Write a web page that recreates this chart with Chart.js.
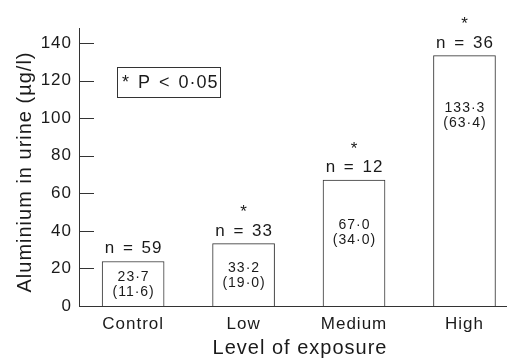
<!DOCTYPE html>
<html>
<head>
<meta charset="utf-8">
<script src="https://cdn.jsdelivr.net/npm/chart.js@4.4.0/dist/chart.umd.min.js"></script>
<style>
  html, body { margin: 0; padding: 0; background: #fff; }
  #wrap { width: 507px; height: 358px; position: relative; }
</style>
</head>
<body>
<div id="wrap"><canvas id="c" width="507" height="358"></canvas></div>
<script>
const categories = ['Control', 'Low', 'Medium', 'High'];
const means = [23.7, 33.2, 67.0, 133.3];
const sds = [11.6, 19.0, 34.0, 63.4];
const nValues = [59, 33, 12, 36];
const significant = [false, true, true, true];
const yTicks = [0, 20, 40, 60, 80, 100, 120, 140];
const xTitle = 'Level of exposure';
const yTitle = 'Aluminium in urine (\u00B5g/l)';
const legendText = '* P < 0\u00B705';

const FONT = '"Liberation Sans", Arial, Helvetica, sans-serif';
const INK = '#1a1a1a';
const fmt = v => v.toFixed(1).replace('.', '\u00B7');

const spacing = {
  id: 'spacing',
  beforeLayout(chart) { chart.ctx.letterSpacing = '1px'; },
  beforeDraw(chart) { chart.ctx.letterSpacing = '1px'; }
};

const annotate = {
  id: 'annotate',
  afterDatasetsDraw(chart, args, opts) {
    const ctx = chart.ctx;
    const meta = chart.getDatasetMeta(0);
    const yScale = chart.scales.y;
    const area = chart.chartArea;
    ctx.save();
    ctx.letterSpacing = '1px';
    // inward y ticks
    ctx.strokeStyle = '#333';
    ctx.lineWidth = 1;
    yTicks.forEach(t => {
      const py = Math.round(yScale.getPixelForValue(t)) + 0.5;
      ctx.beginPath();
      ctx.moveTo(area.left, py);
      ctx.lineTo(area.left + 15, py);
      ctx.stroke();
    });
    ctx.fillStyle = INK;
    ctx.textAlign = 'center';
    meta.data.forEach((bar, i) => {
      const cx = bar.x + 0.5;
      const top = bar.y;
      ctx.font = '17px ' + FONT;
      ctx.wordSpacing = '2px';
      ctx.textBaseline = 'alphabetic';
      ctx.fillText('n = ' + nValues[i], cx, top - 8);
      ctx.wordSpacing = '0px';
      if (significant[i]) {
        ctx.font = '17px ' + FONT;
        ctx.textBaseline = 'middle';
        ctx.fillText('*', cx, top - 31);
      }
      ctx.font = '14px ' + FONT;
      ctx.textBaseline = 'alphabetic';
      const off = opts.innerOffsets[i];
      ctx.fillText(fmt(means[i]), cx, top + off);
      ctx.fillText('(' + fmt(sds[i]) + ')', cx, top + off + 15);
    });
    // significance key box
    const bx = area.left + 38, by = 67, bw = 103, bh = 30;
    ctx.strokeStyle = '#333';
    ctx.strokeRect(bx + 0.5, by + 0.5, bw, bh);
    ctx.font = '18px ' + FONT;
    ctx.wordSpacing = '2px';
    ctx.textAlign = 'left';
    ctx.textBaseline = 'middle';
    ctx.fillText(legendText, bx + 5, by + bh / 2 + 1);
    ctx.wordSpacing = '0px';
    // axis titles
    ctx.font = '20px ' + FONT;
    ctx.textAlign = 'center';
    ctx.textBaseline = 'alphabetic';
    ctx.fillText(xTitle, opts.xTitleX, chart.height - 4);
    ctx.save();
    ctx.translate(25, opts.yTitleY);
    ctx.rotate(-Math.PI / 2);
    ctx.textBaseline = 'middle';
    ctx.fillText(yTitle, 0, 0);
    ctx.restore();
    ctx.restore();
  }
};

new Chart(document.getElementById('c'), {
  type: 'bar',
  data: {
    datasets: [{
      data: categories.map((c, i) => ({ x: i, y: means[i] })),
      backgroundColor: '#ffffff',
      borderColor: '#333',
      borderWidth: 1,
      barThickness: 62
    }]
  },
  plugins: [spacing, annotate],
  options: {
    responsive: false,
    animation: false,
    devicePixelRatio: 1,
    layout: { padding: { top: 28, right: 0, bottom: 0, left: 0 } },
    plugins: {
      legend: { display: false },
      tooltip: { enabled: false },
      annotate: { innerOffsets: [20, 28, 49, 56], xTitleX: 300, yTitleY: 172 }
    },
    scales: {
      x: {
        type: 'linear',
        offset: false,
        min: -0.49,
        max: 3.385,
        afterBuildTicks: s => { s.ticks = categories.map((c, i) => ({ value: i })); },
        afterFit: s => { s.height = 52; },
        grid: { display: false, drawTicks: false },
        border: { display: true, color: '#333', width: 1 },
        ticks: {
          padding: 8,
          color: INK,
          maxRotation: 0,
          font: { family: FONT, size: 17 },
          callback: v => categories[v] ?? ''
        },
        title: { display: false }
      },
      y: {
        min: 0,
        max: 148,
        afterBuildTicks: s => { s.ticks = yTicks.map(v => ({ value: v })); },
        afterFit: s => { s.width = 79; },
        grid: { display: false, drawTicks: false },
        border: { display: true, color: '#333', width: 1 },
        ticks: {
          padding: 7,
          color: INK,
          font: { family: FONT, size: 17 }
        },
        title: { display: false }
      }
    }
  }
});
</script>
</body>
</html>
